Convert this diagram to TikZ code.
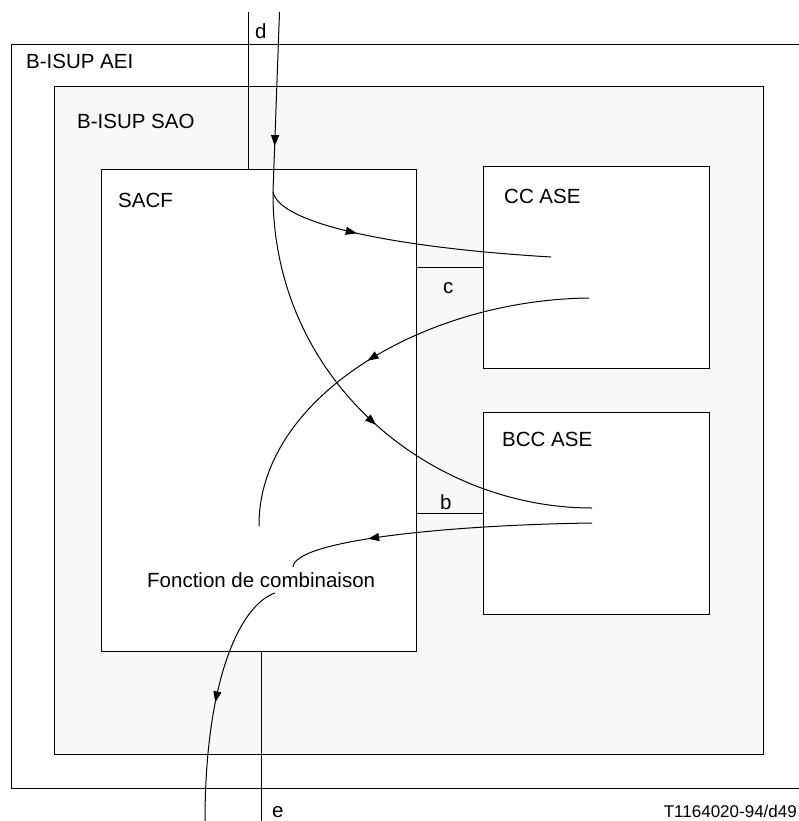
\documentclass[tikz,border=0pt]{standalone}
\usepackage{fontspec}
\setmainfont{Liberation Sans}
\usetikzlibrary{arrows.meta,decorations.markings}
\definecolor{saofill}{RGB}{248,248,248}
\tikzset{
  box/.style={draw=black, line width=1.1pt, inner sep=0pt, anchor=north west},
  wire/.style={draw=black, line width=1pt},
  flow/.style={draw=black, line width=1pt},
  arrowat/.style={postaction={decorate},decoration={markings,
     mark=at position #1 with {\arrow{Triangle[length=11pt,width=8pt]}}}},
  lbl/.style={inner sep=0pt, anchor=base west, font=\fontsize{20.5}{24}\selectfont},
  idlbl/.style={inner sep=0pt, anchor=base east, font=\fontsize{17}{20}\selectfont}
}
\begin{document}
\begin{tikzpicture}[x=1pt,y=-1pt]
\useasboundingbox (0,0) rectangle (799,821);
% boxes
\node[box, fill=white, minimum width=790pt, minimum height=744pt] (aei) at (11,44) {};
\node[box, fill=saofill, minimum width=709pt, minimum height=668pt] (sao) at (54,86) {};
\node[box, fill=white, minimum width=315pt, minimum height=482pt] (sacf) at (100.5,169) {};
\node[box, fill=white, minimum width=225.5pt, minimum height=202pt] (cc) at (483,166) {};
\node[box, fill=white, minimum width=225.5pt, minimum height=202pt] (bcc) at (483,412) {};
% labels
\node[lbl] (laei) at (26,69) {B-ISUP AEI};
\node[lbl] (lsao) at (77,129) {B-ISUP SAO};
\node[lbl] (lsacf) at (118,207) {SACF};
\node[lbl] (lcc) at (504,203) {CC ASE};
\node[lbl] (lbcc) at (502,446) {BCC ASE};
\node[lbl] (lfc) at (147,587) {Fonction de combinaison};
\node[lbl] (ld) at (255,39) {d};
\node[lbl] (le) at (272,817) {e};
\node[lbl] (lc) at (443,293) {c};
\node[lbl] (lb) at (440,509) {b};
\node[idlbl] (lid) at (797,817) {T1164020-94/d49};
% interfaces
\coordinate (dtopa) at (248,12);
\coordinate (cl) at (sacf.east |- 0,267);
\coordinate (cr) at (cc.west |- 0,267);
\coordinate (bl) at (sacf.east |- 0,513);
\coordinate (br) at (bcc.west |- 0,513);
\coordinate (ebot) at (261,821);
\draw[wire] (dtopa) -- (dtopa |- sacf.north);
\draw[wire] (cl) -- (cr);
\draw[wire] (bl) -- (br);
\draw[wire] (ebot |- sacf.south) -- (ebot);
% flows
\coordinate (dtop) at (279.5,12);
\coordinate (branch) at (273,192);
\coordinate (ccin) at (551,257);
\coordinate (ccout) at (589,298);
\coordinate (ccend) at (259,526);
\coordinate (bccin) at (592,508);
\coordinate (bccout) at (592,523);
\coordinate (fcin) at (293,567);
\coordinate (fcout) at (275,593);
\coordinate (eout) at (205,821);
\draw[flow, arrowat=0.745] (dtop) -- (branch);
\draw[flow, arrowat=0.33] (branch) .. controls (280,225) and (400,248) .. (ccin);
\draw[flow, arrowat=0.526] (branch) .. controls (272,380) and (430,508) .. (bccin);
\draw[flow, arrowat=0.53] (ccout) .. controls (420,300) and (258,400) .. (ccend);
\draw[flow, arrowat=0.73] (bccout) .. controls (450,525) and (295,540) .. (fcin);
\draw[flow, arrowat=0.52] (fcout) .. controls (240,605) and (205,680) .. (eout);
\end{tikzpicture}
\end{document}
